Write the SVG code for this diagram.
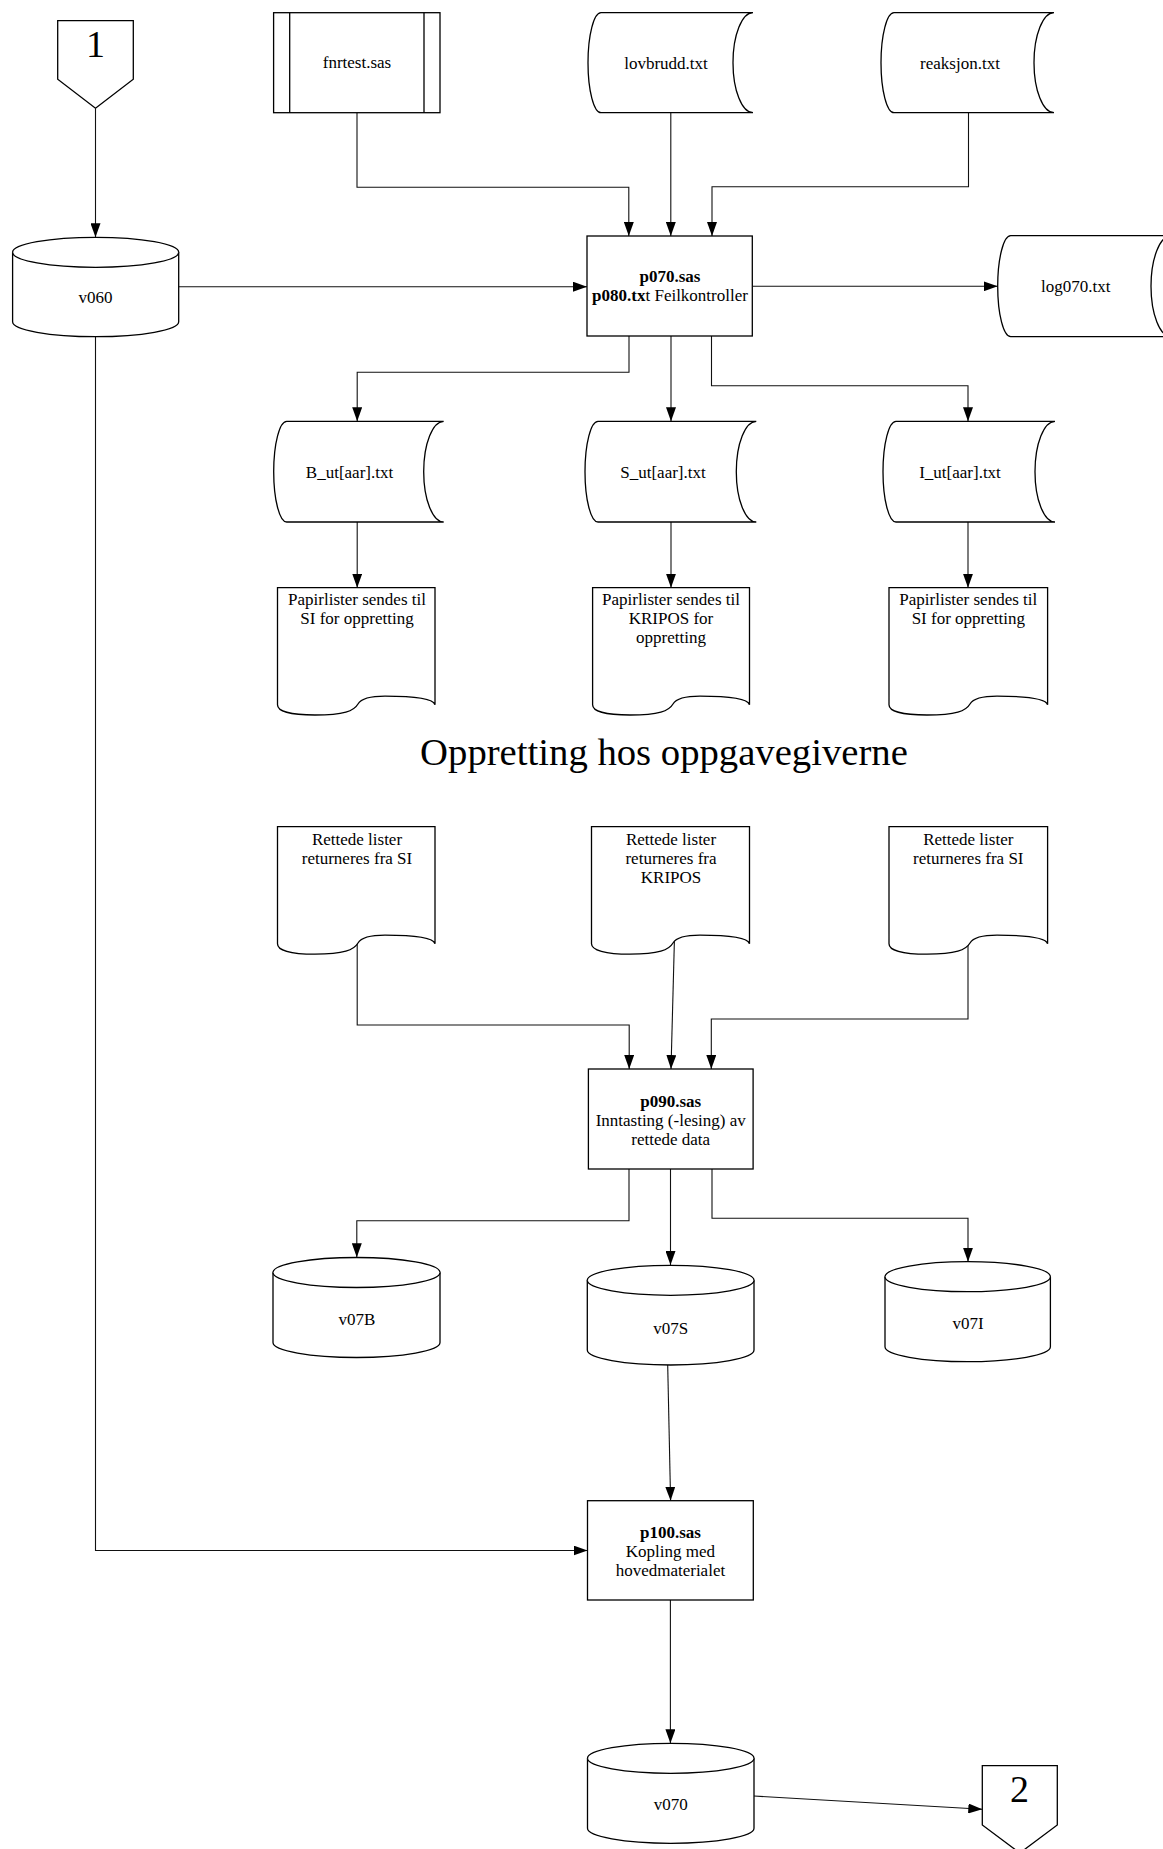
<svg xmlns="http://www.w3.org/2000/svg" width="1163" height="1849" viewBox="0 0 1163 1849">
<style>
.s{fill:#fff;stroke:#000;stroke-width:1.3}
.c{fill:none;stroke:#111;stroke-width:1.1}
.t{font-family:"Liberation Serif","Times New Roman",serif;font-size:17px;fill:#000;text-anchor:middle}
.b{font-weight:bold}
.big{font-family:"Liberation Serif","Times New Roman",serif;font-size:38px;fill:#000;text-anchor:middle}
</style>
<defs>
<marker id="ah" viewBox="0 0 14 10" markerWidth="14" markerHeight="10" refX="14" refY="5" orient="auto" markerUnits="userSpaceOnUse">
<path d="M0,0 L14,5 L0,10 Z" fill="#000"/>
</marker>
</defs>
<rect width="1163" height="1849" fill="#fff"/>

<g id="connectors" class="c" marker-end="url(#ah)">
<path d="M95.5,108.3 V237.3"/>
<path d="M178.7,286.7 H587"/>
<path d="M357,112.7 V187.3 H628.8 V236"/>
<path d="M670.8,112.7 V236"/>
<path d="M968.5,112.7 V186.7 H712 V236"/>
<path d="M752.3,286.3 H997.7"/>
<path d="M629,336 V372.3 H357.2 V421.3"/>
<path d="M671,336 V421.3"/>
<path d="M711.5,336 V385.7 H968 V421.3"/>
<path d="M357.2,522 V587.7"/>
<path d="M671,522 V587.7"/>
<path d="M968,522 V587.7"/>
<path d="M357.2,943 V1025 H629.2 V1069"/>
<path d="M674.6,933 L671,1069"/>
<path d="M968,943 V1019 H711.3 V1069"/>
<path d="M629,1169 V1220.7 H356.8 V1257.3"/>
<path d="M670.5,1169 V1265"/>
<path d="M712,1169 V1218.3 H968 V1261.7"/>
<path d="M667.7,1365 L670.6,1500.7"/>
<path d="M95.5,336.7 V1550.5 H587.5"/>
<path d="M670.4,1600 V1743.3"/>
<path d="M754,1796 L982.3,1809.3"/>
</g>

<g id="off1">
<path class="s" d="M57.7,20.7 H133.3 V79.3 L95.5,108.3 L57.7,79.3 Z"/>
<text class="big" x="95.5" y="56.7">1</text>
</g>

<g id="fnrtest">
<rect class="s" x="273.6" y="12.7" width="166.4" height="100"/>
<path class="s" d="M289.7,12.7 V112.7 M424,12.7 V112.7"/>
<text class="t" x="357" y="68">fnrtest.sas</text>
</g>

<g id="lovbrudd">
<path class="s" d="M601,12.7 H753 A20,50 0 0 0 753,112.7 H601 A13,50 0 0 1 601,12.7 Z"/>
<text class="t" x="666" y="69">lovbrudd.txt</text>
</g>

<g id="reaksjon">
<path class="s" d="M894,12.7 H1054 A20,50 0 0 0 1054,112.7 H894 A13,50 0 0 1 894,12.7 Z"/>
<text class="t" x="960" y="69">reaksjon.txt</text>
</g>

<g id="v060">
<path class="s" d="M12.6,252.3 A83.05,15 0 0 1 178.7,252.3 V321.7 A83.05,15 0 0 1 12.6,321.7 Z"/>
<path class="s" fill="none" d="M12.6,252.3 A83.05,15 0 0 0 178.7,252.3"/>
<text class="t" x="95.6" y="302.5">v060</text>
</g>

<g id="p070">
<rect class="s" x="587" y="236" width="165.3" height="100"/>
<text class="t b" x="670" y="281.5">p070.sas</text>
<text class="t" x="670" y="300.5"><tspan class="b">p080.tx</tspan>t Feilkontroller</text>
</g>

<g id="log070">
<path class="s" d="M1010.7,235.7 H1171 A20,50.5 0 0 0 1171,336.7 H1010.7 A13,50.5 0 0 1 1010.7,235.7 Z"/>
<text class="t" x="1075.8" y="292">log070.txt</text>
</g>

<g id="B_ut">
<path class="s" d="M286.7,421.3 H443.7 A20,50.35 0 0 0 443.7,522 H286.7 A13,50.35 0 0 1 286.7,421.3 Z"/>
<text class="t" x="349.5" y="477.7">B_ut[aar].txt</text>
</g>

<g id="S_ut">
<path class="s" d="M598,421.3 H756.3 A20,50.35 0 0 0 756.3,522 H598 A13,50.35 0 0 1 598,421.3 Z"/>
<text class="t" x="663" y="477.7">S_ut[aar].txt</text>
</g>

<g id="I_ut">
<path class="s" d="M896,421.3 H1055 A20,50.35 0 0 0 1055,522 H896 A13,50.35 0 0 1 896,421.3 Z"/>
<text class="t" x="960" y="477.7">I_ut[aar].txt</text>
</g>

<g id="docB">
<path class="s" d="M277.5,587.7 H435 V704.7 C433,698 412,696.2 385,696.2 C368,696.2 361,699 358,704 C354,711 344,715 315,715 C290,715 277.5,711 277.5,704.7 Z"/>
<text class="t" x="357" y="605">Papirlister sendes til</text>
<text class="t" x="357" y="624">SI for oppretting</text>
</g>

<g id="docS">
<path class="s" d="M592.6,587.7 H749.5 V704.7 C747.5,698 727,696.2 700,696.2 C683,696.2 676,699 673,704 C669,711 659,715 630,715 C605,715 592.6,711 592.6,704.7 Z"/>
<text class="t" x="671" y="605">Papirlister sendes til</text>
<text class="t" x="671" y="624">KRIPOS for</text>
<text class="t" x="671" y="643">oppretting</text>
</g>

<g id="docI">
<path class="s" d="M889,587.7 H1047.6 V704.7 C1045.6,698 1024,696.2 997,696.2 C980,696.2 973,699 970,704 C966,711 956,715 927,715 C902,715 889,711 889,704.7 Z"/>
<text class="t" x="968.3" y="605">Papirlister sendes til</text>
<text class="t" x="968.3" y="624">SI for oppretting</text>
</g>

<g id="title">
<text class="big" x="664" y="765" style="font-size:38.7px">Oppretting hos oppgavegiverne</text>
</g>

<g id="rdoc1">
<path class="s" d="M277.5,826.7 H435 V943.7 C433,937 412,935.2 385,935.2 C368,935.2 361,938 358,943 C354,950 344,954.2 315,954.2 C290,954.2 277.5,950 277.5,943.7 Z"/>
<text class="t" x="357" y="844.5">Rettede lister</text>
<text class="t" x="357" y="863.5">returneres fra SI</text>
</g>

<g id="rdoc2">
<path class="s" d="M591.5,826.7 H749.5 V943.7 C747.5,937 727,935.2 700,935.2 C683,935.2 676,938 673,943 C669,950 659,954.2 630,954.2 C605,954.2 591.5,950 591.5,943.7 Z"/>
<text class="t" x="671" y="844.5">Rettede lister</text>
<text class="t" x="671" y="863.5">returneres fra</text>
<text class="t" x="671" y="882.5">KRIPOS</text>
</g>

<g id="rdoc3">
<path class="s" d="M889,826.7 H1047.6 V943.7 C1045.6,937 1024,935.2 997,935.2 C980,935.2 973,938 970,943 C966,950 956,954.2 927,954.2 C902,954.2 889,950 889,943.7 Z"/>
<text class="t" x="968.3" y="844.5">Rettede lister</text>
<text class="t" x="968.3" y="863.5">returneres fra SI</text>
</g>

<g id="p090">
<rect class="s" x="588.4" y="1069" width="164.7" height="100"/>
<text class="t b" x="670.7" y="1106.5">p090.sas</text>
<text class="t" x="670.7" y="1125.5">Inntasting (-lesing) av</text>
<text class="t" x="670.7" y="1144.5">rettede data</text>
</g>

<g id="v07B">
<path class="s" d="M273,1272.5 A83.5,15 0 0 1 440,1272.5 V1342.5 A83.5,15 0 0 1 273,1342.5 Z"/>
<path class="s" fill="none" d="M273,1272.5 A83.5,15 0 0 0 440,1272.5"/>
<text class="t" x="356.8" y="1325">v07B</text>
</g>

<g id="v07S">
<path class="s" d="M587.3,1280.3 A83.35,15 0 0 1 754,1280.3 V1350 A83.35,15 0 0 1 587.3,1350 Z"/>
<path class="s" fill="none" d="M587.3,1280.3 A83.35,15 0 0 0 754,1280.3"/>
<text class="t" x="670.7" y="1333.5">v07S</text>
</g>

<g id="v07I">
<path class="s" d="M885,1276.7 A82.7,15 0 0 1 1050.4,1276.7 V1346.7 A82.7,15 0 0 1 885,1346.7 Z"/>
<path class="s" fill="none" d="M885,1276.7 A82.7,15 0 0 0 1050.4,1276.7"/>
<text class="t" x="968" y="1329">v07I</text>
</g>

<g id="p100">
<rect class="s" x="587.5" y="1500.7" width="165.8" height="99.3"/>
<text class="t b" x="670.4" y="1538">p100.sas</text>
<text class="t" x="670.4" y="1557">Kopling med</text>
<text class="t" x="670.4" y="1576">hovedmaterialet</text>
</g>

<g id="v070">
<path class="s" d="M587.5,1758.3 A83.25,15 0 0 1 754,1758.3 V1828.3 A83.25,15 0 0 1 587.5,1828.3 Z"/>
<path class="s" fill="none" d="M587.5,1758.3 A83.25,15 0 0 0 754,1758.3"/>
<text class="t" x="670.7" y="1810">v070</text>
</g>

<g id="off2">
<path class="s" d="M982.3,1765.7 H1057.3 V1825 L1019.8,1853 L982.3,1825 Z"/>
<text class="big" x="1019.5" y="1801.7">2</text>
</g>
</svg>
